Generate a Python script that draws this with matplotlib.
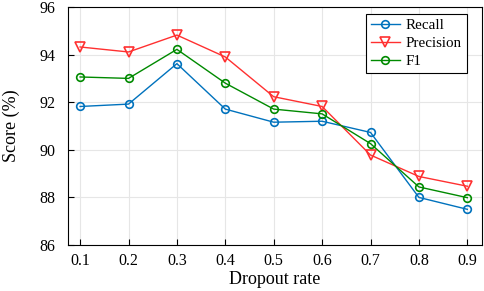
import matplotlib
matplotlib.use("Agg")
import matplotlib.pyplot as plt

dropout = [0.1, 0.2, 0.3, 0.4, 0.5, 0.6, 0.7, 0.8, 0.9]
recall = [91.82, 91.92, 93.62, 91.71, 91.16, 91.20, 90.73, 88.00, 87.50]
precision = [94.32, 94.11, 94.82, 93.90, 92.23, 91.82, 89.78, 88.88, 88.47]
f1 = [93.06, 93.00, 94.22, 92.80, 91.71, 91.51, 90.26, 88.44, 87.99]
yticks = [86, 88, 90, 92, 94, 96]

plt.rcParams['font.family'] = ['Liberation Serif', 'DejaVu Serif']

fig = plt.figure(figsize=(4.84, 2.91), dpi=100)
ax = fig.add_axes([0.1405, 0.158, 0.855, 0.818])

ax.plot(dropout, recall, color='#0072BD', marker='o', mfc='none', mew=1.2, ms=5.5, lw=1.0, label='Recall')
ax.plot(dropout, precision, color='#FF3030', marker='v', mfc='none', mew=1.2, ms=6.5, lw=1.0, label='Precision')
ax.plot(dropout, f1, color='#008A00', marker='o', mfc='none', mew=1.2, ms=5.5, lw=1.0, label='F1')

ax.set_xlim(0.075, 0.93)
ax.set_ylim(86, 96)
ax.set_xticks(dropout)
ax.set_xticklabels([f"{v:.1f}" for v in dropout])
ax.set_yticks(yticks)
ax.grid(True, color='#e6e6e6', lw=0.8)
ax.set_axisbelow(True)
ax.tick_params(direction='in', labelsize=11.5, length=4, width=0.8)
ax.tick_params(axis='x', pad=6)
ax.tick_params(axis='y', pad=9)
for s in ax.spines.values():
    s.set_linewidth(0.8)
ax.set_xlabel('Dropout rate', fontsize=13)
ax.set_ylabel('Score (%)', fontsize=13)
ax.xaxis.set_label_coords(0.5, -0.11)
ax.yaxis.set_label_coords(-0.115, 0.5)

leg = ax.legend(loc='upper right', bbox_to_anchor=(0.964, 0.972), borderaxespad=0, fontsize=10.8,
                frameon=True, fancybox=False, edgecolor='black', framealpha=1, handlelength=1.9,
                borderpad=0.35, labelspacing=0.28, handletextpad=0.4)
leg.get_frame().set_linewidth(0.8)

fig.savefig('out.png', dpi=100)
